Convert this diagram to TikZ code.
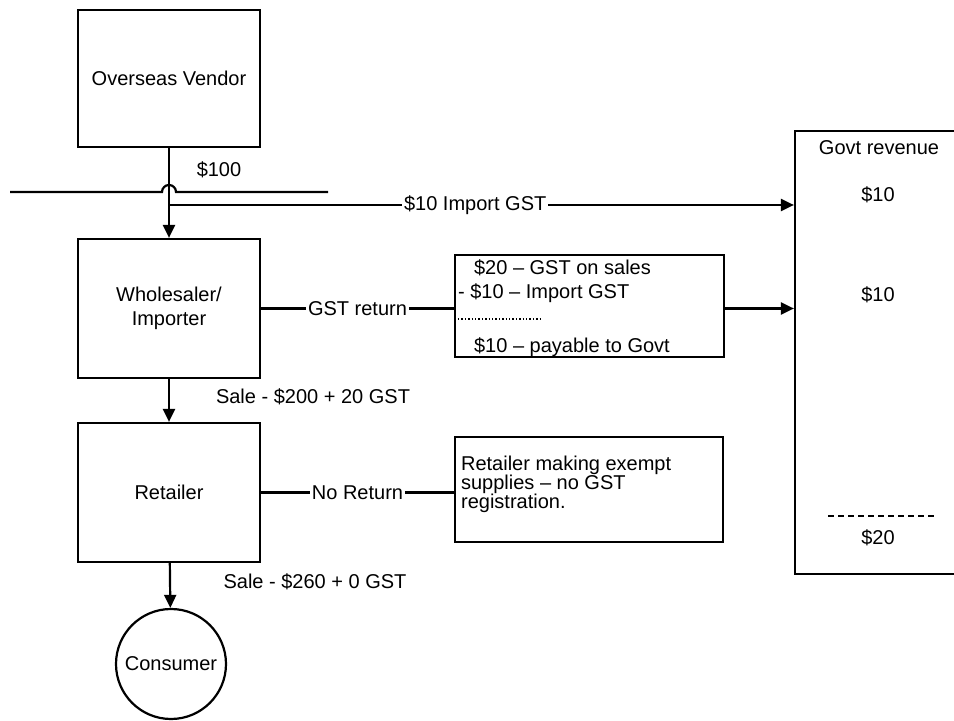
\documentclass[tikz,border=0pt]{standalone}
\usepackage{fontspec}
\setmainfont{Liberation Sans}
\usetikzlibrary{arrows.meta}
\begin{document}
\begin{tikzpicture}
[x=0.5pt,y=-0.5pt,line width=1.1pt,font=\fontsize{10}{12}\selectfont,
box/.style={draw,rectangle,minimum width=91pt,align=center,inner sep=0pt},
note/.style={draw,rectangle,inner sep=0pt},
txt/.style={anchor=west,inner sep=0pt},
lbl/.style={fill=white,inner sep=1pt},
arr/.style={-{Triangle[length=6.5pt,width=6pt]}}]
\useasboundingbox (0,0) rectangle (954,721);\clip (0,0) rectangle (954,721);
\node(vendor) at (169,78.5)[box,minimum height=68.5pt]{Overseas Vendor};
\node(whole) at (169,308.5)[box,minimum height=69.5pt]{Wholesaler/\\Importer};
\node(retail) at (169,492.5)[box,minimum height=69.5pt]{Retailer};
\node(cons) at (171,664)[draw,circle,minimum size=55pt,inner sep=0pt]{Consumer};
\node(gstbox) at (589.5,306)[note,minimum width=134.5pt,minimum height=51pt]{};
\node(exempt) at (589,489.5)[note,minimum width=134pt,minimum height=52.5pt]{};
\node(govt) at (895,352.5)[note,minimum width=100pt,minimum height=221.5pt]{};
% GST return box
\node(g1) at (473,268)[txt]{\$20 -- GST on sales};\node(g2) at (457,293)[txt]{- \$10 -- Import GST};
\draw[densely dotted,line width=0.7pt] (458,319) -- (542,319);
\node(g3) at (473,347)[txt]{\$10 -- payable to Govt};
\node(e1) at (460,455)[anchor=north west,align=left,inner sep=0pt,font=\fontsize{10}{9.5}\selectfont]
{Retailer making exempt\\supplies -- no GST\\registration.};
% Govt revenue
\node(gt) at (879,148){Govt revenue};\node(r1) at (878,195){\$10};\node(r2) at (878,295){\$10};
\draw[densely dashed,line width=0.7pt] (828,516) -- (935,516);\node(r3) at (878,538){\$20};
% flows
\coordinate(tap) at (169,205);\coordinate(bl) at (10,192);\coordinate(br) at (328,192);
\draw (bl) -- (162,192) arc[start angle=180,end angle=360,radius=7] -- (br);
\draw[arr] (vendor) -- (whole);\node(p1) at (219,170){\$100};
\draw[arr] (tap) -- node[lbl,pos=0.49]{\$10 Import GST} (tap -| govt.west);
\draw (whole) -- node[lbl]{GST return} (whole.east -| gstbox.west);
\draw[arr] (gstbox.east |- whole.east) -- (govt.west |- whole.east);
\draw[arr] (whole) -- (retail);\node(s1) at (313,397){Sale - \$200 + 20 GST};
\draw (retail) -- node[lbl]{No Return} (retail.east -| exempt.west);
\draw[arr] (retail) -- (cons);\node(s2) at (315,582){Sale - \$260 + 0 GST};
\end{tikzpicture}
\end{document}
